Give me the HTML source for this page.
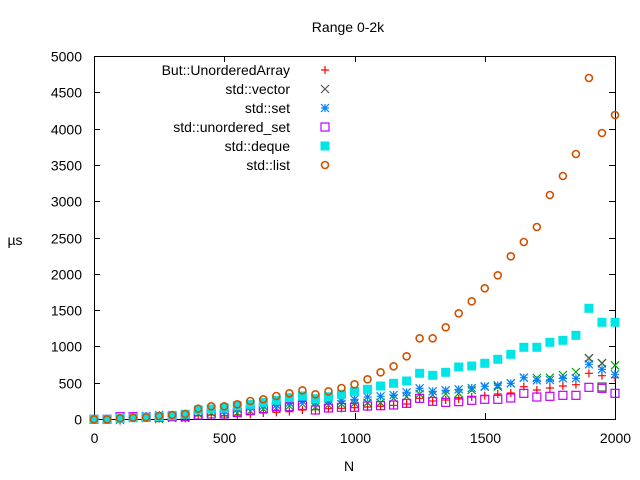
<!DOCTYPE html><html><head><meta charset="utf-8"><style>body{margin:0;background:#fff}svg{display:block;font-family:"Liberation Sans",sans-serif;font-size:14px}</style></head><body>
<svg id="s" width="640" height="480" xmlns="http://www.w3.org/2000/svg">
<rect width="640" height="480" fill="#fff"/>
<text x="348" y="32" text-anchor="middle">Range 0-2k</text>
<text x="349" y="471" text-anchor="middle">N</text>
<text x="15" y="245" text-anchor="middle">µs</text>
<g id="ax" stroke="#000" stroke-width="1" fill="none"></g>
<g id="lab"></g>
<g id="pts" stroke-width="1.2" fill="none"></g>
</svg>
<script>
var L=94,R=615,T=56,B=419,ns="http://www.w3.org/2000/svg";
function el(p,t,a,tx){var e=document.createElementNS(ns,t);for(var k in a)e.setAttribute(k,a[k]);if(tx!=null)e.textContent=tx;document.getElementById(p).appendChild(e);return e;}
el('ax','rect',{x:L+.5,y:T+.5,width:R-L,height:B-T});
for(var i=0;i<=10;i++){var y=Math.round(B-i*(B-T)/10)+.5;el('ax','path',{d:'M'+L+' '+y+'h6M'+R+' '+y+'h-6'});el('lab','text',{x:82,y:y+5,'text-anchor':'end'},String(i*500));}
for(var i=0;i<=4;i++){var x=Math.round(L+i*(R-L)/4)+.5;el('ax','path',{d:'M'+x+' '+B+'v-6M'+x+' '+T+'v6'});el('lab','text',{x:x,y:443,'text-anchor':'middle'},String(i*500));}
function X(i){return L+i*(R-L)/40;}
function z(a,off){return a.map(function(v){return off+v/3;});}
var red=z([508,508,512,503,502,506,500,505,497,495,497,495,493,489,487,485,480,479,476],250).concat(z([475,473,471,469,466,462,445,453,450,447,441,437,432,429,410,420,414,408,404,370,377,383],250));
var mag=z([508,508,500,500,502,502,500,500,495,492,492,488,482,476,470,470,466,480,474],250).concat(z([472,472,468,467,465,460,445,454,457,455,451,448,448,444,430,441,439,436,436,412,415,430],250));
var blu=[419,419,418,417,416,415,415,414,411,410,411,409,407,406,405,403,401,403,402,401].concat(z([448,441,439,435,427,415,424,421,418,414,409,406,400,383,391,390,385,385,343,358,373],250));
var grn=[419,419,420,418,418,419,418,418,414,413,414,413,411,409,408,406,404,407,405,404].concat(z([460,458,458,445,440,432,435,432,430,420,410,410,400,383,384,383,375,366,325,340,346],250));
var cy=[419.3,419.3,418.3,417.7,417.3,416.7,415.7,414.3,410,409,408,405.7,404.3,402.3,400.3,397.7,396,398.7,396.7,394.3,391.3,389.3,386,383.3,381,373.3,375.3,372.3,367,366,363.3,359.3,354.3,347.3,347.3,342.3,340.3,335.3,308.3,322.3,322.3];
var org=[419.3,419.3,418.3,417.7,417.3,416,415,414,408.7,406.3,406.3,404.3,401,399.3,396,393.3,390.3,394.3,391.3,388,384.3,379.3,372.3,366.3,356.3,338.3,338.3,327.3,313.3,301.3,288.3,275.3,256.3,242,227,195,176,154,78,133,115];
function plus(x,y,c){el('pts','path',{d:'M'+(x-4)+' '+y+'h8M'+x+' '+(y-4)+'v8',stroke:c});}
function cross(x,y,c){el('pts','path',{d:'M'+(x-4)+' '+(y-4)+'l8 8M'+(x-4)+' '+(y+4)+'l8 -8',stroke:c});}
function star(x,y,c){plus(x,y,c);cross(x,y,c);}
function sq(x,y,c){el('pts','rect',{x:x-4,y:y-4,width:8,height:8,stroke:c});}
function fsq(x,y,c){el('pts','rect',{x:x-4.5,y:y-4.5,width:9,height:9,fill:c,stroke:'none'});}
function circ(x,y,c){el('pts','circle',{cx:x,cy:y,r:3.5,stroke:c,'stroke-width':1.6});}
for(var i=0;i<41;i++){var x=X(i);
 plus(x,red[i],'#ff0000');cross(x,grn[i],'#00a000');star(x,blu[i],'#0080ff');sq(x,mag[i],'#c000ff');fsq(x,cy[i],'#00e5e5');circ(x,org[i],'#d05000');}
cross(X(38),358,'#555');cross(X(39),363,'#555');sq(X(39),387,'#555');
var names=['But::UnorderedArray','std::vector','std::set','std::unordered_set','std::deque','std::list'];
var fns=[plus,cross,star,sq,fsq,circ],cols=['#ff0000','#555','#0080ff','#c000ff','#00e5e5','#d05000'];
for(var k=0;k<6;k++){var y=70+k*19;el('lab','text',{x:290,y:y+5,'text-anchor':'end'},names[k]);fns[k](325,y,cols[k]);}
</script>
</body></html>
